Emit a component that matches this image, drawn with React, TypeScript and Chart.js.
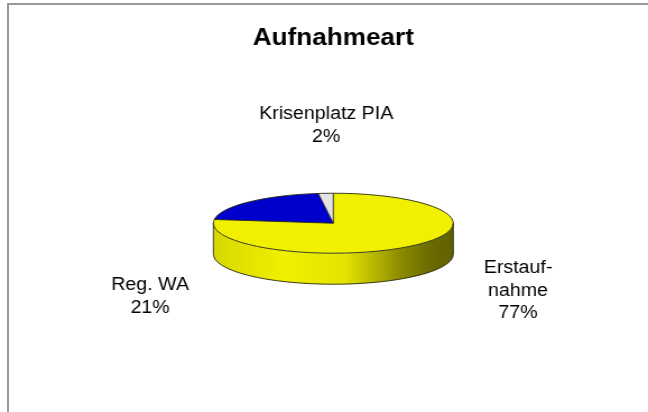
import React, { useEffect, useRef } from 'react';
import { Chart, registerables } from 'chart.js';

Chart.register(...registerables);

// ---- data ----
const chartTitle = 'Aufnahmeart';
const categories = ['Erstaufnahme', 'Reg. WA', 'Krisenplatz PIA'];
const labelLines = [['Erstauf-', 'nahme'], ['Reg. WA'], ['Krisenplatz PIA']];
const shares = [77, 21, 2];
const sliceColors = ['#f0f000', '#0000cc', '#e4e4e4'];

// ---- layout / style ----
const CANVAS_W = 578;
const CANVAS_H = 412;
const STRETCH = 648 / CANVAS_W;
const PIE_RADIUS = 107;
const PIE_RY = 30;
const PIE_DEPTH = 31;
const LINE_H = 22.5;
const LABEL_FONT = '17.5px "Liberation Sans", Arial, sans-serif';
// first text line of each label, relative to the pie centre
const labelOffsets = [
  { dx: 164.8, dy: 45 },
  { dx: -163.4, dy: 62 },
  { dx: -6.3, dy: -109 },
];
const wallStops: [number, number][] = [
  [0, 0.9],
  [0.3, 1.0],
  [0.55, 0.95],
  [0.66, 0.78],
  [0.78, 0.58],
  [0.9, 0.45],
  [1, 0.4],
];

function shade(hex: string, f: number) {
  const n = parseInt(hex.slice(1), 16);
  const r = Math.min(255, Math.round(((n >> 16) & 255) * f));
  const g = Math.min(255, Math.round(((n >> 8) & 255) * f));
  const b = Math.min(255, Math.round((n & 255) * f));
  return `rgb(${r},${g},${b})`;
}

const pie3d = {
  id: 'pie3d',
  beforeDatasetsDraw(chart: any) {
    const meta = chart.getDatasetMeta(0);
    const arcs = meta.data as any[];
    chart.$pie3dSaved = false;
    if (!arcs.length) return;
    const ctx: CanvasRenderingContext2D = chart.ctx;
    const { x: cx, y: cy, outerRadius: rx } = arcs[0].getProps(['x', 'y', 'outerRadius'], true);
    const ry = PIE_RY;
    const d = PIE_DEPTH;
    arcs.forEach((arc, i) => {
      const { startAngle, endAngle } = arc.getProps(['startAngle', 'endAngle'], true);
      for (const base of [-2 * Math.PI, 0, 2 * Math.PI]) {
        const a = Math.max(startAngle, base);
        const b = Math.min(endAngle, base + Math.PI);
        if (b <= a) continue;
        const g = ctx.createLinearGradient(cx - rx, 0, cx + rx, 0);
        wallStops.forEach(([p, f]) => g.addColorStop(p, shade(sliceColors[i], f)));
        ctx.beginPath();
        ctx.ellipse(cx, cy, rx, ry, 0, a, b, false);
        ctx.ellipse(cx, cy + d, rx, ry, 0, b, a, true);
        ctx.closePath();
        ctx.fillStyle = g;
        ctx.fill();
      }
    });
    ctx.save();
    ctx.translate(cx, cy);
    ctx.scale(1, ry / rx);
    ctx.translate(-cx, -cy);
    chart.$pie3dSaved = true;
  },
  afterDatasetsDraw(chart: any) {
    if (!chart.$pie3dSaved) return;
    const ctx: CanvasRenderingContext2D = chart.ctx;
    ctx.restore();
    const arcs = chart.getDatasetMeta(0).data as any[];
    const { x: cx, y: cy, outerRadius: rx } = arcs[0].getProps(['x', 'y', 'outerRadius'], true);
    const ry = PIE_RY;
    const d = PIE_DEPTH;
    ctx.save();
    ctx.strokeStyle = 'rgba(40,40,20,0.9)';
    ctx.lineWidth = 1;
    ctx.beginPath();
    ctx.ellipse(cx, cy, rx, ry, 0, 0, Math.PI * 2);
    ctx.stroke();
    arcs.forEach((arc) => {
      const { startAngle } = arc.getProps(['startAngle'], true);
      ctx.beginPath();
      ctx.moveTo(cx, cy);
      ctx.lineTo(cx + rx * Math.cos(startAngle), cy + ry * Math.sin(startAngle));
      ctx.stroke();
    });
    ctx.beginPath();
    ctx.ellipse(cx, cy + d, rx, ry, 0, 0, Math.PI, false);
    ctx.stroke();
    ctx.beginPath();
    ctx.moveTo(cx - rx, cy);
    ctx.lineTo(cx - rx, cy + d);
    ctx.moveTo(cx + rx, cy);
    ctx.lineTo(cx + rx, cy + d);
    ctx.stroke();

    ctx.font = LABEL_FONT;
    ctx.fillStyle = '#000';
    ctx.textAlign = 'center';
    ctx.textBaseline = 'middle';
    categories.forEach((_, i) => {
      const lines = [...labelLines[i], `${shares[i]}%`];
      const off = labelOffsets[i];
      lines.forEach((t, j) => {
        ctx.fillText(t, cx + off.dx, cy + off.dy + j * LINE_H);
      });
    });
    ctx.restore();
  },
};

export default function App() {
  const ref = useRef<HTMLCanvasElement>(null);
  useEffect(() => {
    document.body.style.margin = '0';
    document.body.style.overflow = 'hidden';
    const chart = new Chart(ref.current!, {
      type: 'pie',
      data: {
        labels: categories,
        datasets: [
          {
            data: shares,
            backgroundColor: sliceColors,
            borderWidth: 0,
            clip: false as any,
          },
        ],
      },
      options: {
        responsive: false,
        animation: false,
        devicePixelRatio: 1,
        events: [],
        radius: PIE_RADIUS,
        layout: { padding: { top: 14.5, bottom: 28, left: 40, right: 23.4 } },
        plugins: {
          legend: { display: false },
          tooltip: { enabled: false },
          title: {
            display: true,
            text: chartTitle,
            color: '#000',
            font: { family: '"Liberation Sans", Arial, sans-serif', size: 23.3, weight: 'bold', lineHeight: 1.2 },
            padding: { top: 10, bottom: 10 },
          },
        },
      } as any,
      plugins: [pie3d],
    });
    return () => chart.destroy();
  }, []);

  return (
    <div style={{ position: 'relative', width: 648, height: 412, overflow: 'hidden', background: '#fff' }}>
      <div
        style={{
          position: 'absolute',
          left: 7,
          top: 3,
          width: 641,
          height: 409,
          borderLeft: '2px solid #999',
          borderTop: '2px solid #999',
          boxSizing: 'border-box',
        }}
      />
      <div
        style={{
          position: 'absolute',
          left: 0,
          top: 0,
          width: CANVAS_W,
          height: CANVAS_H,
          transform: `scaleX(${STRETCH})`,
          transformOrigin: '0 0',
        }}
      >
        <canvas ref={ref} width={CANVAS_W} height={CANVAS_H} style={{ width: CANVAS_W, height: CANVAS_H, display: 'block' }} />
      </div>
    </div>
  );
}
